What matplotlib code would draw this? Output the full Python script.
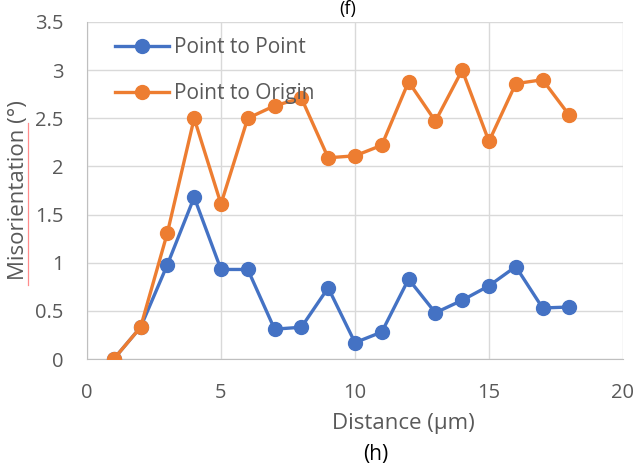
import matplotlib
matplotlib.use('agg')
import matplotlib.pyplot as plt
from matplotlib.lines import Line2D

plt.rcParams['font.family'] = ['Open Sans', 'DejaVu Sans']

distance = [1, 2, 3, 4, 5, 6, 7, 8, 9, 10, 11, 12, 13, 14, 15, 16, 17, 18]
point_to_point = [0, 0.33, 0.98, 1.68, 0.93, 0.93, 0.31, 0.33, 0.74, 0.17,
                  0.28, 0.83, 0.48, 0.61, 0.76, 0.96, 0.53, 0.54]
point_to_origin = [0, 0.33, 1.31, 2.50, 1.61, 2.50, 2.63, 2.71, 2.09, 2.11,
                   2.22, 2.88, 2.47, 3.00, 2.26, 2.86, 2.90, 2.53]
x_ticks = [0, 5, 10, 15, 20]
y_ticks = [0, 0.5, 1, 1.5, 2, 2.5, 3, 3.5]

gray = '#595959'
fig = plt.figure(figsize=(6.4, 4.66), dpi=100)
ax = fig.add_axes([0.1359, 0.2296, 0.8375, 0.7232])

ax.plot(distance, point_to_point, color='#4472C4', lw=2.4, marker='o', ms=10,
        label='Point to Point', zorder=3)
ax.plot(distance, point_to_origin, color='#ED7D31', lw=2.4, marker='o', ms=10,
        label='Point to Origin', zorder=4)

ax.set_xlim(0, 20)
ax.set_ylim(0, 3.5)
ax.set_xticks(x_ticks)
ax.set_yticks(y_ticks)
ax.set_yticklabels([f'{v:g}' for v in y_ticks])
ax.grid(True, color='#d9d9d9', lw=1.0)
ax.set_axisbelow(True)
for s in ['top', 'right']:
    ax.spines[s].set_visible(False)
for s in ['left', 'bottom']:
    ax.spines[s].set_color('#bfbfbf')
ax.tick_params(length=0, labelsize=14.5, colors=gray)
ax.tick_params(axis='y', pad=17)
ax.tick_params(axis='x', pad=17)

ax.set_xlabel('Distance (µm)', fontsize=16, color=gray)
ax.set_ylabel('Misorientation (°)', fontsize=16, color=gray)
ax.xaxis.set_label_coords(0.591, -0.16)
ax.yaxis.set_label_coords(-0.108, 0.5)

# spell-check underline seen in the source image
fig.add_artist(Line2D([28 / 640, 28 / 640], [1 - 285 / 466, 1 - 123 / 466],
                      color='#ff8c8c', lw=0.9))

leg = ax.legend(loc='upper left', frameon=False, fontsize=15, handlelength=2.6,
                labelspacing=1.2, handletextpad=0.25, borderpad=0,
                borderaxespad=0, bbox_to_anchor=(0.052, 0.955), labelcolor=gray)

fig.text(0.544, 1.0, '(f)', ha='center', va='top', fontsize=13, color='black')
fig.text(0.5875, 0.024, '(h)', ha='center', va='center', fontsize=15, color='black')

plt.savefig('out.png', dpi=100)
